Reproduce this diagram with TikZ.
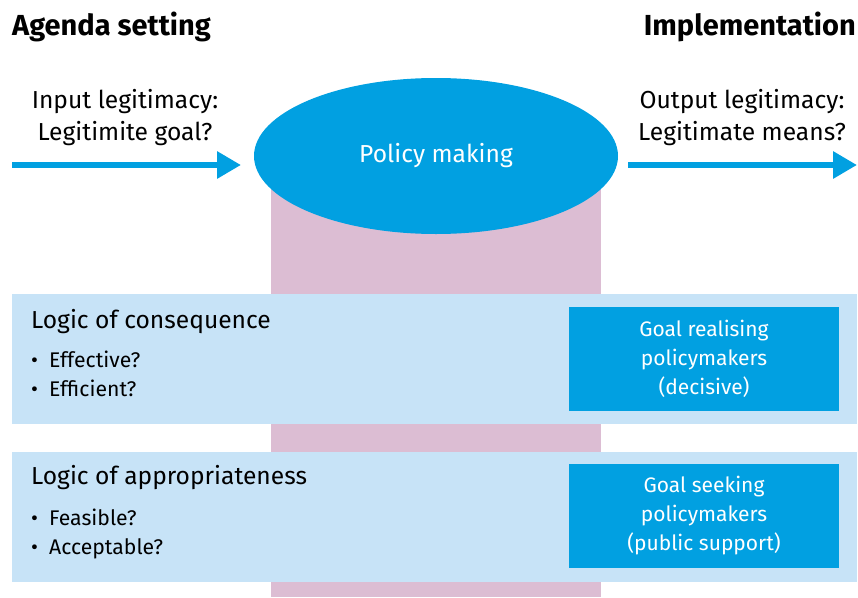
\documentclass[tikz,border=0pt]{standalone}
\usepackage{fontspec}
\setmainfont{Fira Sans}
\usetikzlibrary{arrows.meta,shapes.geometric}

\definecolor{roblue}{HTML}{01A0E1}
\definecolor{bandblue}{HTML}{C7E3F7}
\definecolor{roseback}{HTML}{DCBDD3}

\tikzset{
    flow/.style={roblue, line width=6pt, -{Triangle[length=24pt,width=26pt]}},
    band/.style={fill=bandblue, inner sep=0pt, minimum width=845pt, minimum height=130pt, anchor=north west},
    actor/.style={fill=roblue, text=white, inner sep=0pt, minimum width=270pt, minimum height=104pt,
        align=center, font=\fontsize{21}{29}\selectfont},
    phase/.style={inner sep=0pt, font=\fontsize{29}{34}\selectfont\bfseries},
    ask/.style={anchor=base, inner sep=0pt, font=\fontsize{24.6}{32}\selectfont},
    logic/.style={anchor=base west, inner sep=0pt, font=\fontsize{24.6}{32}\selectfont},
    item/.style={anchor=base west, inner sep=0pt, font=\fontsize{21.2}{29}\selectfont}
}
\newcommand{\itm}[1]{\makebox[18pt][l]{\textbullet}#1}

\begin{document}
\begin{tikzpicture}[x=1pt,y=-1pt]
    \useasboundingbox (0,0) rectangle (858,597);
    \fill[roseback] (271,175) rectangle (601,597);

    \node[phase, anchor=base west] (agenda) at (12,35) {Agenda setting};
    \node[phase, anchor=base east] (impl) at (856,35) {Implementation};

    \node[ellipse, fill=roblue, text=white, inner sep=0pt, minimum width=364pt, minimum height=156pt,
        font=\fontsize{24.6}{32}\selectfont] (pm) at (436,156) {Policy making};

    \node[ask] (in1) at (125,108) {Input legitimacy:};
    \node[ask] (in2) at (125,140) {Legitimite goal?};
    \node[ask] (out1) at (742,108) {Output legitimacy:};
    \node[ask] (out2) at (742,140) {Legitimate means?};

    \coordinate (instart) at (12,165);
    \coordinate (inend) at (241,165);
    \coordinate (outstart) at (628,165);
    \coordinate (outend) at (857,165);
    \draw[flow] (instart) -- (inend);
    \draw[flow] (outstart) -- (outend);

    \node[band] (cons) at (12,294) {};
    \node[band] (appr) at (12,452) {};

    \node[logic] (consT) at (31,328) {Logic of consequence};
    \node[item] (eff1) at (31,367) {\itm{Effective?}};
    \node[item] (eff2) at (31,396) {\itm{Efficient?}};
    \node[logic] (apprT) at (31,484) {Logic of appropriateness};
    \node[item] (acc1) at (31,525) {\itm{Feasible?}};
    \node[item] (acc2) at (31,554) {\itm{Acceptable?}};

    \node[actor] (real) at (704,359) {Goal realising\\policymakers\\(decisive)};
    \node[actor] (seek) at (704,516) {Goal seeking\\policymakers\\(public support)};
\end{tikzpicture}
\end{document}
